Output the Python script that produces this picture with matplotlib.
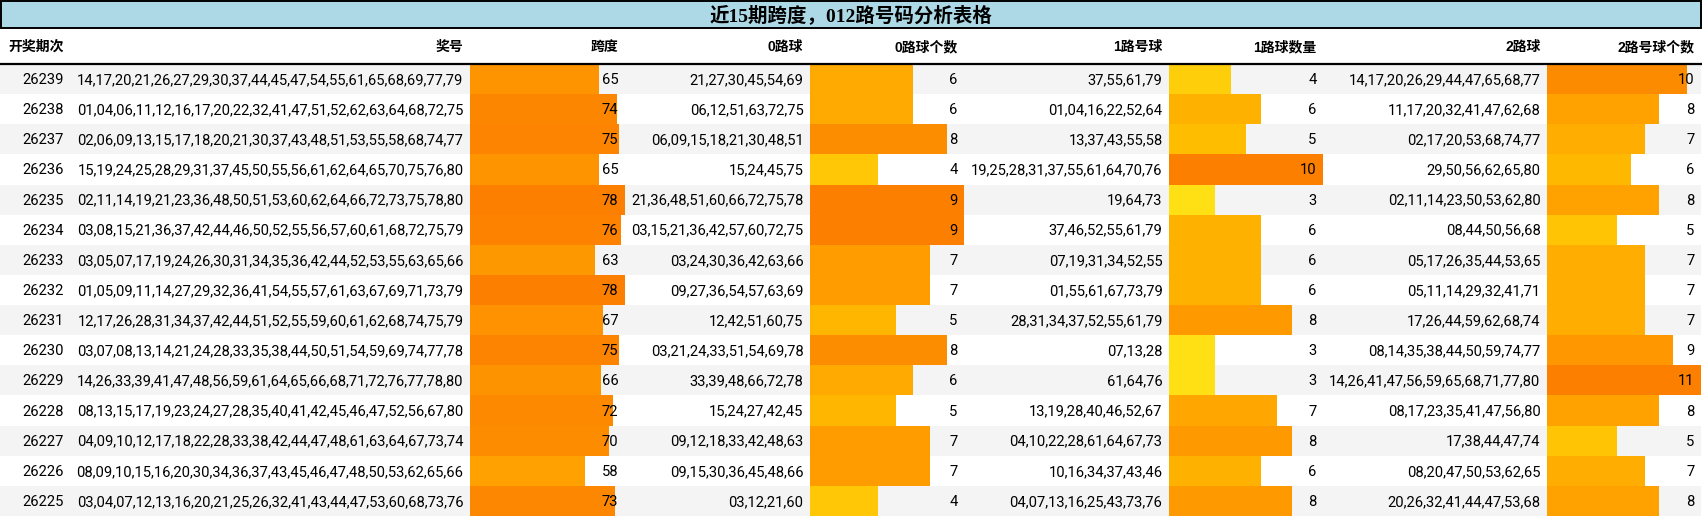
import matplotlib
matplotlib.use("Agg")
import matplotlib.pyplot as plt
from matplotlib.patches import Rectangle

# 近15期跨度，012路号码分析表格

issues = [26239, 26238, 26237, 26236, 26235, 26234, 26233, 26232,
          26231, 26230, 26229, 26228, 26227, 26226, 26225]

draws = [
    "14,17,20,21,26,27,29,30,37,44,45,47,54,55,61,65,68,69,77,79",
    "01,04,06,11,12,16,17,20,22,32,41,47,51,52,62,63,64,68,72,75",
    "02,06,09,13,15,17,18,20,21,30,37,43,48,51,53,55,58,68,74,77",
    "15,19,24,25,28,29,31,37,45,50,55,56,61,62,64,65,70,75,76,80",
    "02,11,14,19,21,23,36,48,50,51,53,60,62,64,66,72,73,75,78,80",
    "03,08,15,21,36,37,42,44,46,50,52,55,56,57,60,61,68,72,75,79",
    "03,05,07,17,19,24,26,30,31,34,35,36,42,44,52,53,55,63,65,66",
    "01,05,09,11,14,27,29,32,36,41,54,55,57,61,63,67,69,71,73,79",
    "12,17,26,28,31,34,37,42,44,51,52,55,59,60,61,62,68,74,75,79",
    "03,07,08,13,14,21,24,28,33,35,38,44,50,51,54,59,69,74,77,78",
    "14,26,33,39,41,47,48,56,59,61,64,65,66,68,71,72,76,77,78,80",
    "08,13,15,17,19,23,24,27,28,35,40,41,42,45,46,47,52,56,67,80",
    "04,09,10,12,17,18,22,28,33,38,42,44,47,48,61,63,64,67,73,74",
    "08,09,10,15,16,20,30,34,36,37,43,45,46,47,48,50,53,62,65,66",
    "03,04,07,12,13,16,20,21,25,26,32,41,43,44,47,53,60,68,73,76",
]

spans = [65, 74, 75, 65, 78, 76, 63, 78, 67, 75, 66, 72, 70, 58, 73]

zero_balls = [
    "21,27,30,45,54,69", "06,12,51,63,72,75", "06,09,15,18,21,30,48,51",
    "15,24,45,75", "21,36,48,51,60,66,72,75,78", "03,15,21,36,42,57,60,72,75",
    "03,24,30,36,42,63,66", "09,27,36,54,57,63,69", "12,42,51,60,75",
    "03,21,24,33,51,54,69,78", "33,39,48,66,72,78", "15,24,27,42,45",
    "09,12,18,33,42,48,63", "09,15,30,36,45,48,66", "03,12,21,60",
]
zero_counts = [6, 6, 8, 4, 9, 9, 7, 7, 5, 8, 6, 5, 7, 7, 4]

one_balls = [
    "37,55,61,79", "01,04,16,22,52,64", "13,37,43,55,58",
    "19,25,28,31,37,55,61,64,70,76", "19,64,73", "37,46,52,55,61,79",
    "07,19,31,34,52,55", "01,55,61,67,73,79", "28,31,34,37,52,55,61,79",
    "07,13,28", "61,64,76", "13,19,28,40,46,52,67",
    "04,10,22,28,61,64,67,73", "10,16,34,37,43,46", "04,07,13,16,25,43,73,76",
]
one_counts = [4, 6, 5, 10, 3, 6, 6, 6, 8, 3, 3, 7, 8, 6, 8]

two_balls = [
    "14,17,20,26,29,44,47,65,68,77", "11,17,20,32,41,47,62,68",
    "02,17,20,53,68,74,77", "29,50,56,62,65,80", "02,11,14,23,50,53,62,80",
    "08,44,50,56,68", "05,17,26,35,44,53,65", "05,11,14,29,32,41,71",
    "17,26,44,59,62,68,74", "08,14,35,38,44,50,59,74,77",
    "14,26,41,47,56,59,65,68,71,77,80", "08,17,23,35,41,47,56,80",
    "17,38,44,47,74", "08,20,47,50,53,62,65", "20,26,32,41,44,47,53,68",
]
two_counts = [10, 8, 7, 6, 8, 5, 7, 7, 7, 9, 11, 8, 5, 7, 8]

title = "近15期跨度，012路号码分析表格"
headers = ["开奖期次", "奖号", "跨度", "0路球", "0路球个数",
           "1路号球", "1路球数量", "2路球", "2路号球个数"]

# 版面（像素）
W, H = 1702, 516
edges = [0, 70.6, 470, 625, 810, 964, 1169, 1323, 1547, 1701]
title_h = 28
head_bottom = 64
row_h = (H - head_bottom) / len(issues)
pad = 6.5

data_font = ["Roboto", "DejaVu Sans"]
head_font = ["Liberation Sans", "Noto Sans CJK SC", "DejaVu Sans"]
title_font = ["Liberation Serif", "Noto Sans CJK SC", "DejaVu Sans"]
cmap = plt.get_cmap("Wistia")

columns = [
    [str(i) for i in issues], draws, spans, zero_balls, zero_counts,
    one_balls, one_counts, two_balls, two_counts,
]
bar_cols = {2, 4, 6, 8}

fig = plt.figure(figsize=(W / 100, H / 100), dpi=100)
ax = fig.add_axes([0, 0, 1, 1])
ax.set_xlim(0, W)
ax.set_ylim(H, 0)
ax.axis("off")

# 标题栏
ax.add_patch(Rectangle((0.8, 0.8), edges[-1] - 0.8, title_h - 0.8,
                       facecolor="#add8e6", edgecolor="black", lw=1.4))
ax.text(W / 2, title_h / 2 + 1, title, ha="center", va="center",
        fontsize=14, fontweight="bold", family=title_font)

# 表头
for j, h in enumerate(headers):
    ax.text(edges[j + 1] - pad, 47, h, ha="right", va="center",
            fontsize=10, fontweight="bold", family=head_font)
ax.plot([0, edges[-1]], [head_bottom, head_bottom], color="black", lw=1.6)

# 斑马纹
ys = [head_bottom + (i + 0.5) * row_h for i in range(len(issues))]
for i, y in enumerate(ys):
    if i % 2 == 0:
        ax.barh(y, edges[-1], left=0, height=row_h, color="#f4f4f4", zorder=0)

# 数据条 + 文本
for j, col in enumerate(columns):
    x0, x1 = edges[j], edges[j + 1]
    if j in bar_cols:
        vmax = max(col)
        widths = [v / vmax * (x1 - x0) for v in col]
        colors = [cmap(v / vmax) for v in col]
        ax.barh(ys, widths, left=x0, height=row_h, color=colors, zorder=1)
    for y, v in zip(ys, col):
        ax.text(x1 - pad, y + 1, str(v), ha="right", va="center",
                fontsize=10.6, family=data_font, zorder=3)

fig.savefig("out.png", dpi=100)
